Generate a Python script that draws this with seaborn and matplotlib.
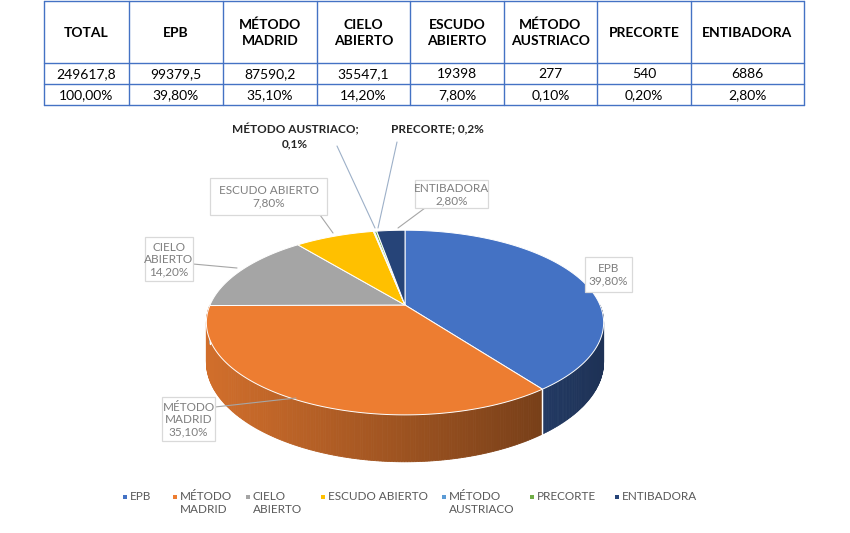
import numpy as np
import matplotlib
matplotlib.use("Agg")
import matplotlib.pyplot as plt
from matplotlib.patches import Polygon, Rectangle
import seaborn as sns

# ---------------- data ----------------
categories = ["EPB", "MÉTODO MADRID", "CIELO ABIERTO", "ESCUDO ABIERTO",
              "MÉTODO AUSTRIACO", "PRECORTE", "ENTIBADORA"]
values = [99379.5, 87590.2, 35547.1, 19398, 277, 540, 6886]
percent_text = ["39,80%", "35,10%", "14,20%", "7,80%", "0,10%", "0,20%", "2,80%"]
legend_labels = ["EPB", "MÉTODO\nMADRID", "CIELO\nABIERTO", "ESCUDO ABIERTO",
                 "MÉTODO\nAUSTRIACO", "PRECORTE", "ENTIBADORA"]
header_labels = ["TOTAL", "EPB", "MÉTODO\nMADRID", "CIELO\nABIERTO", "ESCUDO\nABIERTO",
                 "MÉTODO\nAUSTRIACO", "PRECORTE", "ENTIBADORA"]
value_labels = ["249617,8", "99379,5", "87590,2", "35547,1", "19398", "277", "540", "6886"]
percent_labels = ["100,00%", "39,80%", "35,10%", "14,20%", "7,80%", "0,10%", "0,20%", "2,80%"]
colors = ["#4472C4", "#ED7D31", "#A5A5A5", "#FFC000", "#5B9BD5", "#70AD47", "#264478"]

sns.set_theme(style="white")
palette = sns.color_palette(colors)
plt.rcParams['font.family'] = ['DejaVu Sans Condensed', 'Lato', 'DejaVu Sans']

fig = plt.figure(figsize=(8.5, 5.33), dpi=100)
ax = fig.add_axes([0, 0, 1, 1])
ax.set_xlim(0, 850)
ax.set_ylim(533, 0)
ax.axis('off')

# ---------------- table ----------------
col_edges = [44, 129, 223, 317, 410, 504, 597, 691, 804]
row_edges = [1, 63, 84, 105]
line_c = "#4472C4"
for x in col_edges:
    ax.plot([x, x], [row_edges[0], row_edges[-1]], color=line_c, lw=1.0)
for y in row_edges:
    ax.plot([col_edges[0], col_edges[-1]], [y, y], color=line_c, lw=1.0)
for i in range(len(header_labels)):
    xc = (col_edges[i] + col_edges[i + 1]) / 2
    ax.text(xc, (row_edges[0] + row_edges[1]) / 2 + 1, header_labels[i], ha='center', va='center',
            fontsize=10, fontweight='bold', color='black', linespacing=1.4)
    ax.text(xc, (row_edges[1] + row_edges[2]) / 2 + 0.5, value_labels[i], ha='center', va='center',
            fontsize=10, color='black')
    ax.text(xc, (row_edges[2] + row_edges[3]) / 2 + 0.5, percent_labels[i], ha='center', va='center',
            fontsize=10, color='black')

# ---------------- 3D pie ----------------
cx, cy = 405, 305        # apex
R, RY, A = 195, 89, 0.19  # radii and perspective factor
D0 = 38                   # depth


def proj(theta_deg):
    t = np.radians(theta_deg)
    s = 1.0 / (1.0 + A * np.sin(t))
    return cx + R * np.cos(t) * s, cy - RY * np.sin(t) * s, s


fr = np.array(values) / np.sum(values)
bounds = 90 - 360 * np.concatenate([[0], np.cumsum(fr)])


def shade(col, x):
    f = 0.88 - 0.44 * (x - (cx - R)) / (2 * R)
    r, g, b = matplotlib.colors.to_rgb(col)
    return (r * f, g * f, b * f)


# side walls (front half only)
for i in range(len(values)):
    hi, lo = bounds[i], bounds[i + 1]
    a0, a1 = min(hi, 0), max(lo, -180)
    if a0 <= a1:
        continue
    n = max(int((a0 - a1) * 1.5), 2)
    ts = np.linspace(a0, a1, n + 1)
    for k in range(n):
        x1, y1, s1 = proj(ts[k])
        x2, y2, s2 = proj(ts[k + 1])
        quad = [(x1, y1), (x2, y2), (x2, y2 + D0 * s2), (x1, y1 + D0 * s1)]
        c = shade(palette[i], (x1 + x2) / 2)
        ax.add_patch(Polygon(quad, closed=True, fc=c, ec=c, lw=0.6, zorder=2))
    for a in (a0, a1):
        if -180 < a < 0:
            x, y, s = proj(a)
            ax.plot([x, x], [y, y + D0 * s], color='white', lw=0.9, zorder=3)

# top faces
for i in range(len(values)):
    ts = np.linspace(bounds[i], bounds[i + 1], max(int(abs(bounds[i] - bounds[i + 1]) * 2), 3))
    pts = [(cx, cy)] + [proj(t)[:2] for t in ts]
    ax.add_patch(Polygon(pts, closed=True, fc=palette[i], ec='white', lw=0.7, zorder=4))

# ---------------- data labels ----------------
box_ec = "#D9D9D9"
txt_c = "#7F7F7F"
lead_c = "#A6A6A6"
boxed = [
    (0, 585, 257, 632, 292, "EPB\n" + percent_text[0]),
    (1, 162, 397, 215, 441, "MÉTODO\nMADRID\n" + percent_text[1]),
    (2, 145, 237, 193, 281, "CIELO\nABIERTO\n" + percent_text[2]),
    (3, 210, 178, 327, 215, "ESCUDO ABIERTO\n" + percent_text[3]),
    (6, 415, 180, 488, 208, "ENTIBADORA\n" + percent_text[6]),
]
leaders = {1: ((215, 407), (296, 398)), 2: ((193, 264), (237, 268)),
           3: ((320, 215), (333, 233)), 6: ((425, 208), (398, 228))}
for idx, (a, b) in leaders.items():
    ax.plot([a[0], b[0]], [a[1], b[1]], color=lead_c, lw=0.8, zorder=5)
for idx, x0, y0, x1, y1, s in boxed:
    ax.add_patch(Rectangle((x0, y0), x1 - x0, y1 - y0, fc='white', ec=box_ec, lw=0.9, zorder=6))
    ax.text((x0 + x1) / 2, (y0 + y1) / 2 + 0.5, s, ha='center', va='center', fontsize=8.5,
            color=txt_c, linespacing=1.15, zorder=7)

ax.plot([337, 375], [146, 228], color="#9DB0C8", lw=0.8, zorder=5)
ax.plot([397, 378], [142, 228], color="#9DB0C8", lw=0.8, zorder=5)
ax.text(295, 136, categories[4] + ";\n0,1%", ha='center', va='center', fontsize=8.5,
        fontweight='bold', color='#262626', linespacing=1.3, zorder=7)
ax.text(437, 129, categories[5] + "; 0,2%", ha='center', va='center', fontsize=8.5,
        fontweight='bold', color='#262626', zorder=7)

# ---------------- legend ----------------
leg_x = [125, 175, 248, 323, 444, 532, 617]
for i, lab in enumerate(legend_labels):
    ax.scatter([leg_x[i]], [497], marker='s', s=7, color=palette[i], zorder=8, linewidths=0)
    ax.text(leg_x[i] + 5, 491, lab, ha='left', va='top', fontsize=8.5, color='#595959',
            linespacing=1.2)

fig.savefig("out.png", dpi=100)
